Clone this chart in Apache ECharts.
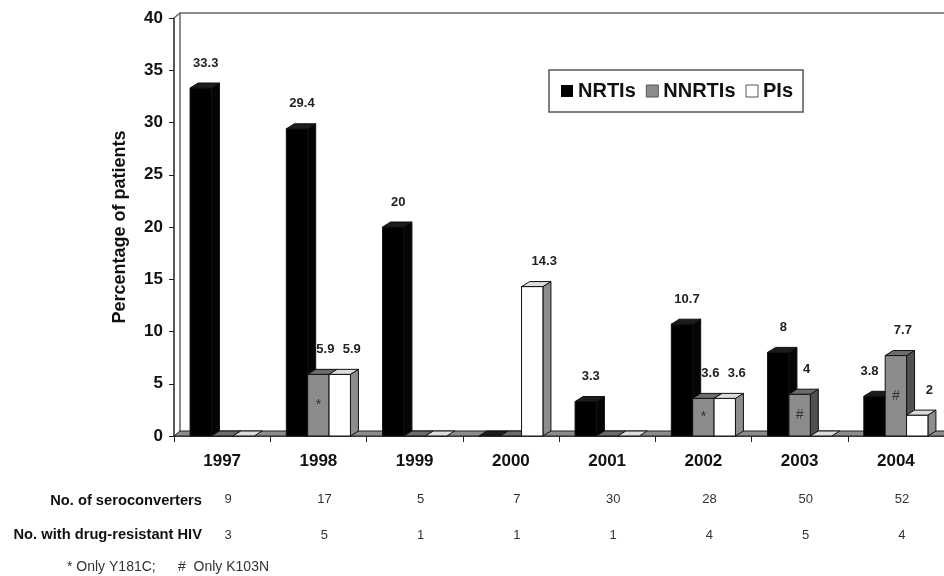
<!DOCTYPE html>
<html><head><meta charset="utf-8">
<script src="https://cdn.jsdelivr.net/npm/echarts@6/dist/echarts.min.js"></script>
<style>html,body{margin:0;padding:0;background:#fff}#c{width:944px;height:576px}</style>
</head><body><div id="c"></div>
<script>
const years = ['1997','1998','1999','2000','2001','2002','2003','2004'];
const nrti  = [33.3, 29.4, 20, 0, 3.3, 10.7, 8, 3.8];
const nnrti = [0, 5.9, 0, 0, 0, 3.6, 4, 7.7];
const pis   = [0, 5.9, 0, 14.3, 0, 3.6, 0, 2];
const nnrtiMarks = ['', '*', '', '', '', '*', '#', '#'];
const seroconverters = [9, 17, 5, 7, 30, 28, 50, 52];
const resistant = [3, 5, 1, 1, 1, 4, 5, 4];
const seriesNames = ['NRTIs', 'NNRTIs', 'PIs'];
const allValues = [nrti, nnrti, pis];

const FF = 'Liberation Sans, Arial, sans-serif';
const DX = 8, DY = 5, WDX = 6;
const labelShift = [5, 7, 12];
const styles = [
  {front:'#000000', top:'#1c1c1c', side:'#050505'},
  {front:'#8c8c8c', top:'#6c6c6c', side:'#505050'},
  {front:'#ffffff', top:'#dcdcdc', side:'#8c8c8c'}
];

function barGeom(si, api) {
  const idx = api.value(0), val = api.value(1);
  const c = api.coord([idx, val]);
  const base = api.coord([idx, 0]);
  const cw = api.size([1, 0])[0];
  const bw = cw * 0.222;
  const x0 = c[0] - 1.5 * bw + si * bw;
  return {idx, val, x0, x1: x0 + bw, yt: c[1], yb: base[1], bw};
}

function makeRender(si, marks) {
  return function (params, api) {
    const g = barGeom(si, api);
    const {val, x0, x1, yt, yb, bw, idx} = g;
    const st = styles[si];
    const stroke = {stroke: '#111', lineWidth: 1};
    const ch = [];
    if (val > 0) {
      ch.push({type:'polygon', shape:{points:[[x1,yb],[x1,yt],[x1+DX,yt-DY],[x1+DX,yb-DY]]}, style:Object.assign({fill:st.side}, stroke)});
      ch.push({type:'rect', shape:{x:x0, y:yt, width:bw, height:yb-yt}, style:Object.assign({fill:st.front}, stroke)});
    }
    ch.push({type:'polygon', shape:{points:[[x0,yt],[x1,yt],[x1+DX,yt-DY],[x0+DX,yt-DY]]}, style:Object.assign({fill:st.top}, stroke)});
    if (marks && marks[idx]) {
      ch.push({type:'text', style:{text:marks[idx], x:(x0+x1)/2, y:(yt+yb)/2, align:'center', verticalAlign:'middle', font:'14px ' + FF, fill:'#333'}});
    }
    return {type:'group', children:ch};
  };
}

function makeLabelRender(si) {
  return function (params, api) {
    const g = barGeom(si, api);
    if (!(g.val > 0)) return {type:'group', children:[]};
    let lx = (g.x0 + g.x1) / 2 + labelShift[si];
    const ly = g.yt - 25;
    // if the neighbouring bar to the right rises past the label, move the label left
    if (si < 2) {
      const nv = allValues[si + 1][g.idx];
      const ny = api.coord([g.idx, nv])[1];
      if (nv > 0 && ny < ly + 8) lx = (g.x0 + g.x1) / 2 - 5;
    }
    return {type:'text', style:{text:String(g.val), x:lx, y:ly, align:'center', verticalAlign:'middle', font:'bold 13px ' + FF, fill:'#222'}};
  };
}

function renderFloor(params, api) {
  const cw = api.size([1, 0])[0];
  const p0 = api.coord([0, 0]);
  const p40 = api.coord([0, 40]);
  const L = p0[0] - cw / 2;
  const R = L + cw * years.length + 20;
  const y0 = p0[1], y40 = p40[1];
  return {type:'group', children:[
    {type:'polyline', shape:{points:[[L+WDX, y0-DY],[L+WDX, y40-DY],[R, y40-DY]]}, style:{stroke:'#666', lineWidth:1.5, fill:null}},
    {type:'line', shape:{x1:L, y1:y40, x2:L+WDX, y2:y40-DY}, style:{stroke:'#666', lineWidth:1.5}},
    {type:'polygon', shape:{points:[[L,y0],[R,y0],[R+WDX,y0-DY],[L+WDX,y0-DY]]}, style:{fill:'#8c8c8c', stroke:'#222', lineWidth:1}}
  ]};
}

const barSeries = seriesNames.map((name, si) => ({
  type:'custom', name:name, renderItem:makeRender(si, si === 1 ? nnrtiMarks : null),
  data:allValues[si].map((v,i)=>[i,v]), encode:{x:0, y:1},
  itemStyle:{color:styles[si].front}, z:2 + si
}));
const labelSeries = seriesNames.map((name, si) => ({
  type:'custom', name:name + ' labels', renderItem:makeLabelRender(si),
  data:allValues[si].map((v,i)=>[i,v]), encode:{x:0, y:1}, silent:true, z:10
}));

const chart = echarts.init(document.getElementById('c'), null, {renderer:'canvas'});
const option = {
  animation: false,
  backgroundColor: '#fff',
  textStyle: {fontFamily: FF},
  grid: {left:174, top:18, width:773, height:418},
  legend: {
    left:549, top:70, orient:'horizontal', padding:[11,10,11,12], itemGap:10,
    itemWidth:12, itemHeight:12, borderColor:'#555', borderWidth:1.5, icon:'rect',
    selectedMode:false,
    textStyle:{fontWeight:'bold', fontSize:20, color:'#111', fontFamily:FF},
    data:[
      {name:'NRTIs', itemStyle:{color:'#000'}},
      {name:'NNRTIs', itemStyle:{color:'#8c8c8c', borderColor:'#555', borderWidth:1}},
      {name:'PIs', itemStyle:{color:'#fff', borderColor:'#555', borderWidth:1}}
    ]
  },
  xAxis: [
    {type:'category', data:years, gridIndex:0,
     axisLine:{lineStyle:{color:'#222', width:1.5}},
     axisTick:{show:true, length:6, lineStyle:{color:'#222'}},
     axisLabel:{margin:17, fontWeight:'bold', fontSize:17, color:'#111', fontFamily:FF}},
    {type:'category', data:seroconverters, gridIndex:0, position:'bottom',
     axisLine:{show:false}, axisTick:{show:false},
     axisLabel:{margin:57, fontSize:13, color:'#333', padding:[0,0,0,12], fontFamily:FF}},
    {type:'category', data:resistant, gridIndex:0, position:'bottom',
     axisLine:{show:false}, axisTick:{show:false},
     axisLabel:{margin:93, fontSize:13, color:'#333', padding:[0,0,0,12], fontFamily:FF}}
  ],
  yAxis: {
    type:'value', min:0, max:40, interval:5,
    axisLine:{show:true, lineStyle:{color:'#222', width:1.5}},
    axisTick:{show:true, length:5, lineStyle:{color:'#222'}},
    splitLine:{show:false},
    axisLabel:{margin:11, fontWeight:'bold', fontSize:17, color:'#111', fontFamily:FF},
    name:'Percentage of patients', nameLocation:'middle', nameGap:45,
    nameTextStyle:{fontWeight:'bold', fontSize:18, color:'#111', fontFamily:FF}
  },
  series: [
    {type:'custom', name:'floor', renderItem:renderFloor, data:[[0, 0]], encode:{x:0, y:1}, silent:true, z:1}
  ].concat(barSeries, labelSeries),
  graphic: [
    {type:'text', x:202, y:501, style:{text:'No. of seroconverters', align:'right', verticalAlign:'middle', font:'bold 14.7px ' + FF, fill:'#111'}},
    {type:'text', x:202, y:535, style:{text:'No. with drug-resistant HIV', align:'right', verticalAlign:'middle', font:'bold 14.7px ' + FF, fill:'#111'}},
    {type:'text', x:67, y:567, style:{text:'* Only Y181C;', align:'left', verticalAlign:'middle', font:'14px ' + FF, fill:'#333'}},
    {type:'text', x:178, y:567, style:{text:'#  Only K103N', align:'left', verticalAlign:'middle', font:'14px ' + FF, fill:'#333'}}
  ]
};
chart.setOption(option);
</script>
</body></html>
